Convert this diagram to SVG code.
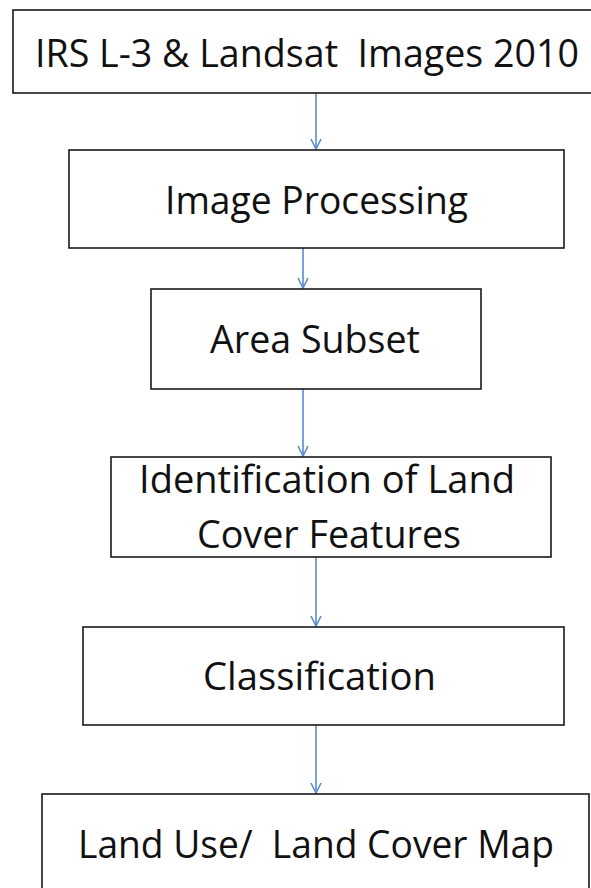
<svg xmlns="http://www.w3.org/2000/svg" width="591" height="888" viewBox="0 0 591 888">
<style>
.box{fill:#fff;stroke:#1a1a1a;stroke-width:1.6}
.lbl{font-family:"Open Sans","Liberation Sans",sans-serif;font-size:39px;fill:#111}
.conn{stroke:#5a8bd0;stroke-width:1.6;fill:none}
</style>
<defs>
<marker id="arr" viewBox="0 0 12 12" refX="11" refY="6" markerWidth="12" markerHeight="12" markerUnits="userSpaceOnUse" orient="auto">
<path d="M1,1 L11,6 L1,11" fill="none" stroke="#5a8bd0" stroke-width="1.6"/>
</marker>
</defs>
<rect width="591" height="888" fill="#fff"/>
<g id="connectors">
<line class="conn" x1="316" y1="93" x2="316" y2="149" marker-end="url(#arr)"/>
<line class="conn" x1="303" y1="248" x2="303" y2="288" marker-end="url(#arr)"/>
<line class="conn" x1="303" y1="389" x2="303" y2="456" marker-end="url(#arr)"/>
<line class="conn" x1="316" y1="557" x2="316" y2="626" marker-end="url(#arr)"/>
<line class="conn" x1="316" y1="725" x2="316" y2="793" marker-end="url(#arr)"/>
</g>
<g id="n1">
<rect class="box" x="13" y="10" width="590" height="83"/>
<text class="lbl" x="35" y="67" textLength="544" lengthAdjust="spacingAndGlyphs" xml:space="preserve">IRS L-3 &amp; Landsat  Images 2010</text>
</g>
<g id="n2">
<rect class="box" x="69" y="150" width="495" height="98"/>
<text class="lbl" x="165" y="214" textLength="303" lengthAdjust="spacingAndGlyphs">Image Processing</text>
</g>
<g id="n3">
<rect class="box" x="151" y="289" width="330" height="100"/>
<text class="lbl" x="210" y="353" textLength="210" lengthAdjust="spacingAndGlyphs">Area Subset</text>
</g>
<g id="n4">
<rect class="box" x="111" y="457" width="440" height="100"/>
<text class="lbl" x="139" y="493" textLength="376" lengthAdjust="spacingAndGlyphs">Identification of Land</text>
<text class="lbl" x="197" y="548" textLength="264" lengthAdjust="spacingAndGlyphs">Cover Features</text>
</g>
<g id="n5">
<rect class="box" x="83" y="627" width="481" height="98"/>
<text class="lbl" x="203" y="690" textLength="233" lengthAdjust="spacingAndGlyphs">Classification</text>
</g>
<g id="n6">
<rect class="box" x="42" y="794" width="547" height="120"/>
<text class="lbl" x="78" y="858" textLength="476" lengthAdjust="spacingAndGlyphs" xml:space="preserve">Land Use/  Land Cover Map</text>
</g>
</svg>
